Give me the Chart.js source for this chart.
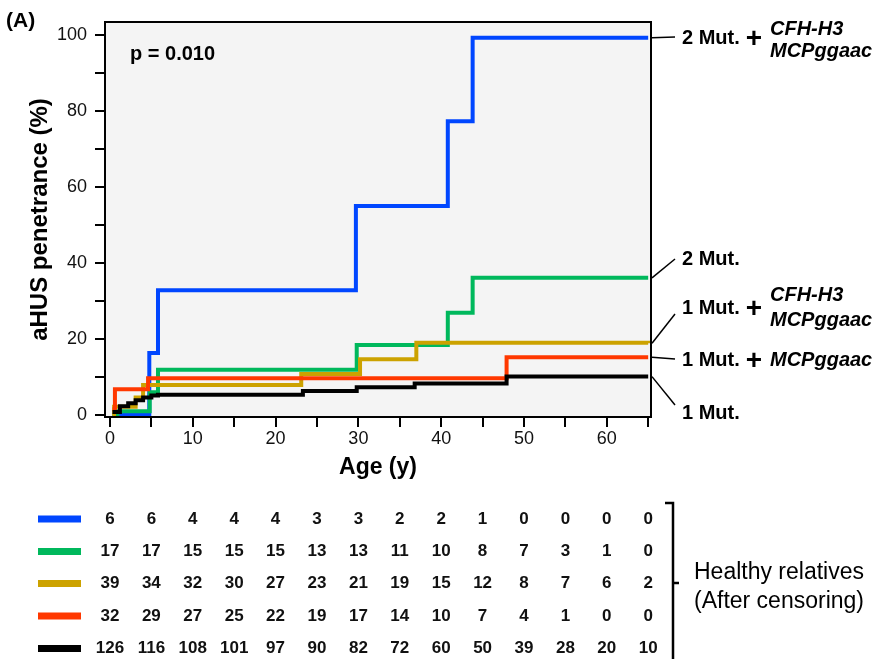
<!DOCTYPE html>
<html>
<head>
<meta charset="utf-8">
<script src="https://cdn.jsdelivr.net/npm/chart.js@4"></script>
<style>
  body { margin: 0; background: #fff; }
  canvas { display: block; }
</style>
</head>
<body>
<canvas id="km" width="874" height="659"></canvas>
<script>
// KM steps, age (y) where the level starts -> penetrance (%)
const ages2MutHap  = [0.3, 4.75, 5.8, 29.7, 40.8, 43.8, 65];
const pen2MutHap   = [0, 16.3, 32.8, 55, 77.3, 99.3, 99.3];
const ages2Mut     = [0.3, 0.9, 4.8, 5.8, 29.8, 40.8, 43.8, 65];
const pen2Mut      = [0, 1.0, 6.0, 11.9, 18.4, 26.9, 36.1, 36.1];
const ages1MutHap  = [0.3, 0.5, 3.1, 4.0, 23.1, 30.2, 37.0, 65];
const pen1MutHap   = [0, 2.2, 4.6, 7.9, 10.8, 14.7, 19.0, 18.9];
const ages1MutMcp  = [0.3, 0.6, 4.6, 47.9, 65];
const pen1MutMcp   = [1.5, 6.8, 9.7, 15.2, 15.2];
const ages1Mut     = [0.3, 1.2, 2.2, 3.1, 4.0, 5.0, 5.8, 23.3, 29.8, 36.8, 47.9, 65];
const pen1Mut      = [0.8, 2.3, 3.1, 3.9, 4.6, 5.1, 5.3, 6.3, 7.3, 8.3, 10.1, 10.1];

// numbers at risk (healthy relatives, after censoring)
const riskAges      = [0, 5, 10, 15, 20, 25, 30, 35, 40, 45, 50, 55, 60, 65];
const risk2MutHap   = [6, 6, 4, 4, 4, 3, 3, 2, 2, 1, 0, 0, 0, 0];
const risk2Mut      = [17, 17, 15, 15, 15, 13, 13, 11, 10, 8, 7, 3, 1, 0];
const risk1MutHap   = [39, 34, 32, 30, 27, 23, 21, 19, 15, 12, 8, 7, 6, 2];
const risk1MutMcp   = [32, 29, 27, 25, 22, 19, 17, 14, 10, 7, 4, 1, 0, 0];
const risk1Mut      = [126, 116, 108, 101, 97, 90, 82, 72, 60, 50, 39, 28, 20, 10];

const xTicks = [0, 5, 10, 15, 20, 25, 30, 35, 40, 45, 50, 55, 60, 65];
const yTicks = [0, 10, 20, 30, 40, 50, 60, 70, 80, 90, 100];

const BLUE = '#0046ff', GREEN = '#00b85c', GOLD = '#cca200', RED = '#ff3800', BLACK = '#000000';
const FONT = "'Liberation Sans', Arial, Helvetica, sans-serif";

function pts(xs, ys) {
  return xs.map((x, i) => ({ x: x, y: ys[i] }));
}

function series(xs, ys, color, order) {
  return {
    data: pts(xs, ys),
    borderColor: color,
    borderWidth: 4,
    stepped: 'before',   // hold the level, then jump at the next age
    pointRadius: 0,
    fill: false,
    order: order,
    borderJoinStyle: 'miter'
  };
}

const rows = [
  { color: BLUE, risk: risk2MutHap },
  { color: GREEN, risk: risk2Mut },
  { color: GOLD, risk: risk1MutHap },
  { color: RED, risk: risk1MutMcp },
  { color: BLACK, risk: risk1Mut }
];
const rowY = [519, 551.5, 583.5, 616, 648.5];

const decor = {
  id: 'decor',
  beforeDraw(chart) {
    const { ctx, chartArea: a } = chart;
    ctx.save();
    ctx.fillStyle = '#f4f4f4';
    ctx.fillRect(a.left, a.top, a.right - a.left, a.bottom - a.top);
    ctx.restore();
  },
  afterDraw(chart) {
    const { ctx, chartArea: a, scales } = chart;
    const sx = scales.x, sy = scales.y;
    ctx.save();
    ctx.strokeStyle = '#000';
    ctx.lineWidth = 2;
    ctx.strokeRect(a.left, a.top, a.right - a.left, a.bottom - a.top);

    ctx.fillStyle = '#000';
    ctx.textBaseline = 'middle';
    ctx.textAlign = 'left';
    ctx.font = 'bold 21px ' + FONT;
    ctx.fillText('(A)', 6, 21);
    ctx.font = 'bold 20px ' + FONT;
    ctx.fillText('p = 0.010', 130, 54);

    // group labels with leader lines
    const labels = [
      { end: pen2MutHap[pen2MutHap.length - 1], y: 38, main: '2 Mut.', plus: true, it: ['CFH-H3', 'MCPggaac'], itY: [29, 51] },
      { end: pen2Mut[pen2Mut.length - 1], y: 259, main: '2 Mut.' },
      { end: pen1MutHap[pen1MutHap.length - 1], y: 308, main: '1 Mut.', plus: true, it: ['CFH-H3', 'MCPggaac'], itY: [295, 320] },
      { end: pen1MutMcp[pen1MutMcp.length - 1], y: 360, main: '1 Mut.', plus: true, it: ['MCPggaac'], itY: [360] },
      { end: pen1Mut[pen1Mut.length - 1], y: 413, main: '1 Mut.' }
    ];
    const leadY = [37, 259, 314, 359, 405];
    labels.forEach((l, i) => {
      ctx.lineWidth = 1.5;
      ctx.beginPath();
      ctx.moveTo(a.right + 1, sy.getPixelForValue(l.end));
      ctx.lineTo(a.right + 24, leadY[i]);
      ctx.stroke();
      ctx.font = 'bold 20px ' + FONT;
      ctx.fillText(l.main, 682, l.y);
      if (l.plus) {
        ctx.font = 'bold 28px ' + FONT;
        ctx.textAlign = 'center';
        ctx.fillText('+', 754, l.y + 1);
        ctx.textAlign = 'left';
      }
      if (l.it) {
        ctx.font = 'italic bold 20px ' + FONT;
        l.it.forEach((t, j) => ctx.fillText(t, 770, l.itY[j]));
      }
    });

    // at-risk table
    rows.forEach((r, i) => {
      ctx.strokeStyle = r.color;
      ctx.lineWidth = 7;
      ctx.beginPath();
      ctx.moveTo(38, rowY[i]);
      ctx.lineTo(81, rowY[i]);
      ctx.stroke();
      ctx.fillStyle = '#111';
      ctx.font = 'bold 17px ' + FONT;
      ctx.textAlign = 'center';
      r.risk.forEach((v, k) => {
        ctx.fillText(String(v), sx.getPixelForValue(riskAges[k]), rowY[i]);
      });
    });

    // bracket
    ctx.strokeStyle = '#000';
    ctx.lineWidth = 2.5;
    ctx.beginPath();
    ctx.moveTo(665, 503);
    ctx.lineTo(673, 503);
    ctx.lineTo(673, 659);
    ctx.moveTo(673, 583);
    ctx.lineTo(679, 583);
    ctx.stroke();
    ctx.fillStyle = '#000';
    ctx.textAlign = 'left';
    ctx.font = '23px ' + FONT;
    ctx.fillText('Healthy relatives', 694, 573);
    ctx.fillText('(After censoring)', 694, 602);
    ctx.restore();
  }
};

Chart.defaults.font.family = FONT;
Chart.defaults.color = '#111';

new Chart(document.getElementById('km'), {
  type: 'line',
  data: {
    datasets: [
      series(ages2MutHap, pen2MutHap, BLUE, 4),
      series(ages2Mut, pen2Mut, GREEN, 3),
      series(ages1MutHap, pen1MutHap, GOLD, 2),
      series(ages1MutMcp, pen1MutMcp, RED, 1),
      series(ages1Mut, pen1Mut, BLACK, 0)
    ]
  },
  options: {
    responsive: false,
    animation: false,
    layout: { padding: { left: 0, top: 22, right: 223, bottom: 172 } },
    plugins: { legend: { display: false }, tooltip: { enabled: false } },
    scales: {
      x: {
        type: 'linear',
        min: -0.6,
        max: 65.34,
        afterBuildTicks: (s) => { s.ticks = xTicks.map(v => ({ value: v })); },
        afterFit: (s) => { s.height = 70; },
        ticks: {
          autoSkip: false,
          maxRotation: 0,
          padding: 1,
          color: '#111',
          font: { size: 18 },
          callback: (v) => (v % 10 === 0 ? v : '')
        },
        grid: { drawOnChartArea: false, drawTicks: true, tickLength: 10, color: '#000', lineWidth: 2 },
        border: { display: true, color: '#000', width: 2 },
        title: { display: true, text: 'Age (y)', color: '#000', font: { size: 23, weight: 'bold' }, padding: { top: 0, bottom: 6 } }
      },
      y: {
        min: -0.53,
        max: 103.42,
        afterBuildTicks: (s) => { s.ticks = yTicks.map(v => ({ value: v })); },
        afterFit: (s) => { s.width = 105; },
        ticks: {
          autoSkip: false,
          padding: 8,
          color: '#111',
          font: { size: 18 },
          callback: (v) => (v % 20 === 0 ? v : '')
        },
        grid: { drawOnChartArea: false, drawTicks: true, tickLength: 10, color: '#000', lineWidth: 2 },
        border: { display: true, color: '#000', width: 2 },
        title: { display: true, text: 'aHUS penetrance (%)', color: '#000', font: { size: 24, weight: 'bold' }, padding: { top: 26, bottom: 0 } }
      }
    }
  },
  plugins: [decor]
});
</script>
</body>
</html>
